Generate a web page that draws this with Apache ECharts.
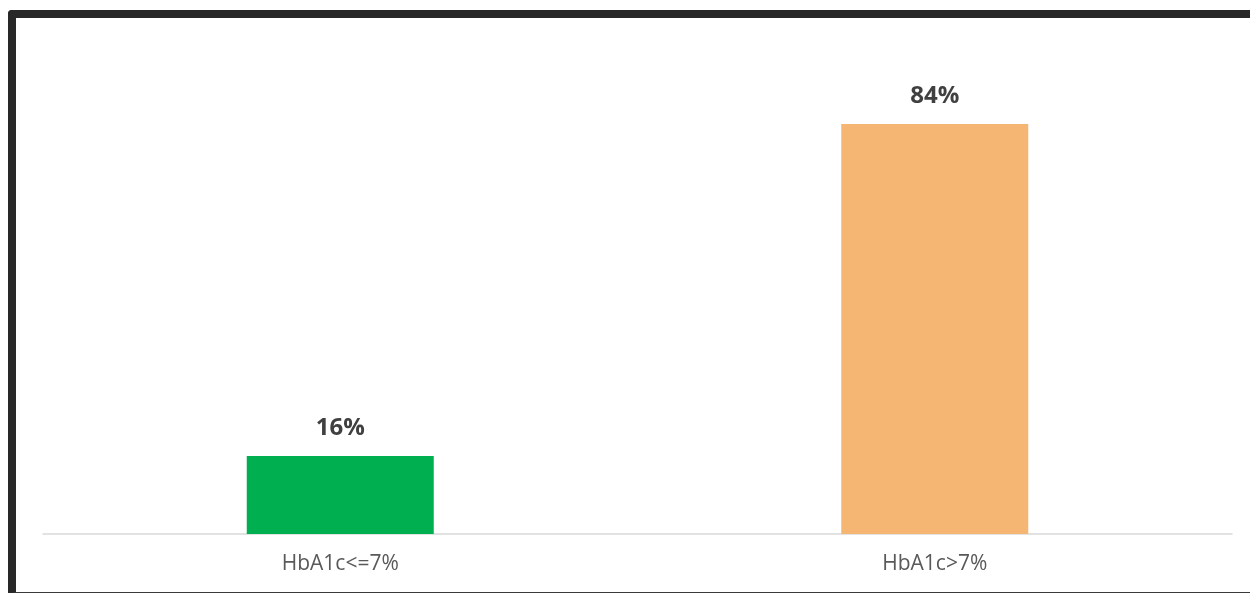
<!DOCTYPE html>
<html>
<head>
<meta charset="utf-8">
<script src="https://cdn.jsdelivr.net/npm/echarts@6/dist/echarts.min.js"></script>
<style>
  html, body { margin: 0; padding: 0; background: #fff; }
  body { width: 1250px; height: 593px; position: relative; overflow: hidden; }
  #frame {
    position: absolute; left: 8px; top: 10px; width: 1400px; height: 574px;
    border-top: 8px solid #282828; border-left: 8px solid #282828;
    border-bottom: 2px solid #3a3a3a; border-top-left-radius: 4px;
  }
  #chart { position: absolute; left: 0; top: 0; width: 1250px; height: 593px; }
</style>
</head>
<body>
<div id="frame"></div>
<div id="chart"></div>
<script>
// HbA1c control split, percent of patients
const categories = ['HbA1c<=7%', 'HbA1c>7%'];
const shares = [16, 84];
const barColors = ['#00b050', '#f5b573'];

const chart = echarts.init(document.getElementById('chart'), null, { renderer: 'canvas' });
chart.setOption({
  animation: false,
  grid: { left: 43, right: 18, top: 46, bottom: 59 },
  xAxis: {
    type: 'category',
    data: categories,
    axisLine: { lineStyle: { color: '#d9d9d9', width: 1.5 } },
    axisTick: { show: false },
    axisLabel: { color: '#595959', fontFamily: 'Open Sans', fontSize: 21, margin: 20 }
  },
  yAxis: {
    type: 'value', min: 0, max: 100,
    show: false, splitLine: { show: false }
  },
  series: [{
    type: 'bar',
    barWidth: 187,
    data: shares.map((v, i) => ({ value: v, itemStyle: { color: barColors[i] } })),
    label: {
      show: true, position: 'top', distance: 16,
      formatter: p => p.value + '%',
      color: '#404040', fontFamily: 'Open Sans', fontWeight: 'bold', fontSize: 24
    }
  }]
});
</script>
</body>
</html>
